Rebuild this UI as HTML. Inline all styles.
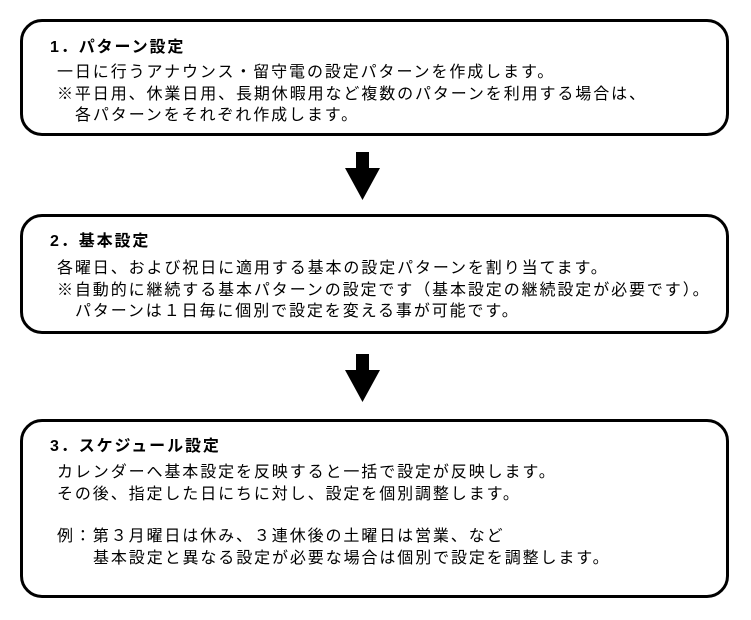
<!DOCTYPE html>
<html><head><meta charset="utf-8"><style>
body{margin:0;width:751px;height:620px;background:#fff;position:relative;overflow:hidden;font-family:"Liberation Sans","Noto Sans CJK JP",sans-serif;color:#000}
.box{position:absolute;border:3px solid #000;border-radius:22px;box-sizing:border-box;left:20px;width:709px}
.t{position:absolute;font-size:16px;letter-spacing:1.9px;white-space:nowrap;line-height:20px}
.b{font-weight:bold}
.arrow{position:absolute}
</style></head><body>
<div class="box" style="top:19px;height:117px"></div>
<div class="box" style="top:214px;height:120px"></div>
<div class="box" style="top:419px;height:179px"></div>

<svg class="arrow" style="left:340px;top:150px" width="46" height="52"><polygon points="16,2 29,2 29,18 40,18 22.5,50 5,18 16,18" fill="#000"/></svg>
<svg class="arrow" style="left:340px;top:352px" width="46" height="52"><polygon points="16,2 29,2 29,18 40,18 22.5,50 5,18 16,18" fill="#000"/></svg>

<div class="t b" style="left:50px;top:38px">1．パターン設定</div>
<div class="t" style="left:57px;top:63px">一日に行うアナウンス・留守電の設定パターンを作成します。</div>
<div class="t" style="left:57px;top:85px">※平日用、休業日用、長期休暇用など複数のパターンを利用する場合は、</div>
<div class="t" style="left:75px;top:106px">各パターンをそれぞれ作成します。</div>

<div class="t b" style="left:50px;top:232px">2．基本設定</div>
<div class="t" style="left:57px;top:259px">各曜日、および祝日に適用する基本の設定パターンを割り当てます。</div>
<div class="t" style="left:57px;top:281px">※自動的に継続する基本パターンの設定です（基本設定の継続設定が必要です）。</div>
<div class="t" style="left:75px;top:302px">パターンは１日毎に個別で設定を変える事が可能です。</div>

<div class="t b" style="left:50px;top:437px">3．スケジュール設定</div>
<div class="t" style="left:57px;top:463px">カレンダーへ基本設定を反映すると一括で設定が反映します。</div>
<div class="t" style="left:57px;top:485px">その後、指定した日にちに対し、設定を個別調整します。</div>
<div class="t" style="left:57px;top:527px">例：第３月曜日は休み、３連休後の土曜日は営業、など</div>
<div class="t" style="left:93px;top:549px">基本設定と異なる設定が必要な場合は個別で設定を調整します。</div>
</body></html>
